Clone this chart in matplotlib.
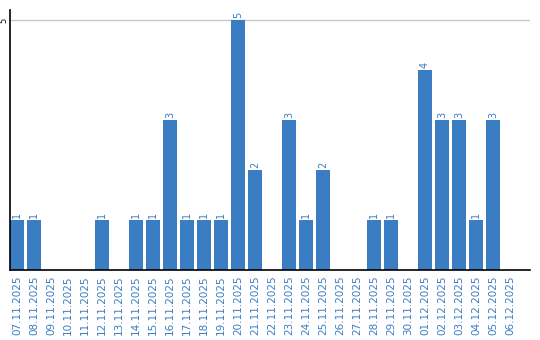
import matplotlib
matplotlib.use('Agg')
from matplotlib import pyplot as plt

dates = ['07.11.2025', '08.11.2025', '09.11.2025', '10.11.2025', '11.11.2025',
         '12.11.2025', '13.11.2025', '14.11.2025', '15.11.2025', '16.11.2025',
         '17.11.2025', '18.11.2025', '19.11.2025', '20.11.2025', '21.11.2025',
         '22.11.2025', '23.11.2025', '24.11.2025', '25.11.2025', '26.11.2025',
         '27.11.2025', '28.11.2025', '29.11.2025', '30.11.2025', '01.12.2025',
         '02.12.2025', '03.12.2025', '04.12.2025', '05.12.2025', '06.12.2025']
counts = [1, 1, 0, 0, 0, 1, 0, 1, 1, 3,
          1, 1, 1, 5, 2, 0, 3, 1, 2, 0,
          0, 1, 1, 0, 4, 3, 3, 1, 3, 0]

blue = '#3b7dc3'

fig = plt.figure(figsize=(5.4, 3.4), dpi=100)
ax = fig.add_axes([10 / 540, 70 / 340, 520 / 540, 260 / 340])

x = range(len(dates))
ax.bar(x, counts, width=0.82, color=blue, zorder=2)

# value labels above bars
for i, v in enumerate(counts):
    if v > 0:
        ax.text(i, v + 0.04, str(v), rotation=90, ha='center', va='bottom',
                fontsize=7, color=blue)

ax.set_xlim(-0.41, 30.18)
ax.set_ylim(0, 5.2)
ax.set_yticks([5])
ax.set_yticklabels(['5'], rotation=90, va='center', fontsize=6)
ax.tick_params(axis='y', length=0, pad=1)
ax.set_xticks(list(x))
ax.set_xticklabels(dates, rotation=90, fontsize=7.5, color=blue)
ax.tick_params(axis='x', length=0, pad=4)

ax.grid(axis='y', color='#c8c8c8', linewidth=1, zorder=1)
for s in ['top', 'right']:
    ax.spines[s].set_visible(False)
ax.spines['left'].set_linewidth(1.2)
ax.spines['bottom'].set_linewidth(1.2)

plt.savefig('out.png', dpi=100)
